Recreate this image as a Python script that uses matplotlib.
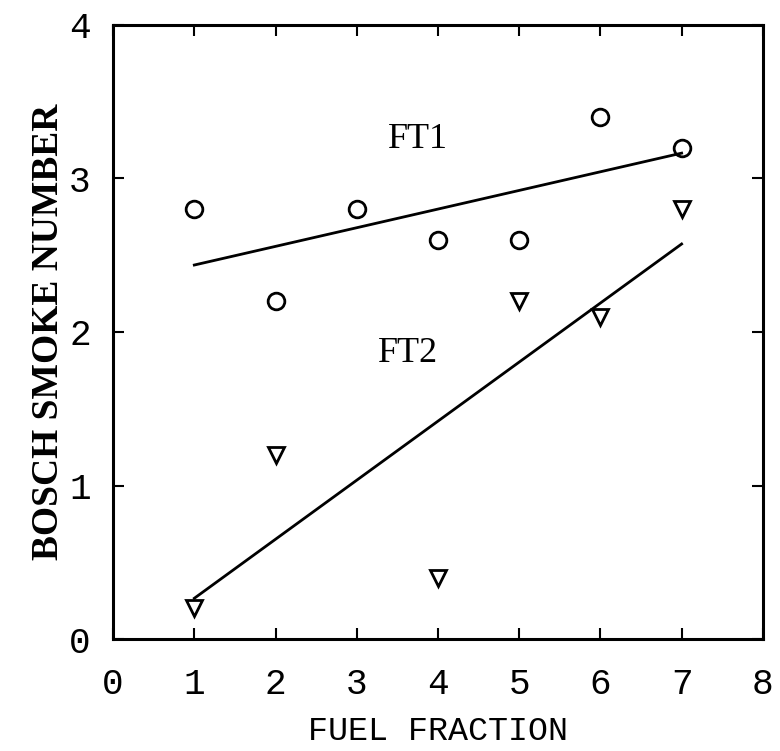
import numpy as np
import matplotlib
matplotlib.use("Agg")
import matplotlib.pyplot as plt

# data
ft1_x = [1, 2, 3, 4, 5, 6, 7]
ft1_y = [2.8, 2.2, 2.8, 2.6, 2.6, 3.4, 3.2]
ft2_x = [1, 2, 4, 5, 6, 7]
ft2_y = [0.2, 1.2, 0.4, 2.2, 2.1, 2.8]
x_ticks = [0, 1, 2, 3, 4, 5, 6, 7, 8]
y_ticks = [0, 1, 2, 3, 4]

fig = plt.figure(figsize=(7.8, 7.51), dpi=100)
ax = fig.add_axes([0.145, 0.149, 0.833, 0.818])

ax.plot(ft1_x, ft1_y, linestyle="none", marker="o", markersize=12,
        markerfacecolor="white", markeredgecolor="black", markeredgewidth=2)
ax.plot(ft2_x, ft2_y, linestyle="none", marker="v", markersize=11,
        markerfacecolor="white", markeredgecolor="black", markeredgewidth=2)

# least squares lines over the data range
for xs, ys in [(ft1_x, ft1_y), (ft2_x, ft2_y)]:
    k, b = np.polyfit(xs, ys, 1)
    xx = np.array([min(xs), max(xs)])
    ax.plot(xx, k * xx + b, color="black", lw=2)

ax.text(3.75, 3.25, "FT1", fontsize=26, family="Liberation Serif", ha="center", va="center")
ax.text(3.63, 1.86, "FT2", fontsize=26, family="Liberation Serif", ha="center", va="center")

ax.set_xlim(0, 8)
ax.set_ylim(0, 4)
ax.set_xticks(x_ticks)
ax.set_yticks(y_ticks)
ax.tick_params(direction="in", length=8, width=1.5, top=True, right=True,
               labelsize=26)
ax.tick_params(axis="x", pad=20)
ax.tick_params(axis="y", pad=16)
for lab in ax.get_xticklabels() + ax.get_yticklabels():
    lab.set_family("Liberation Mono")
for sp in ax.spines.values():
    sp.set_linewidth(2.2)

ax.set_xlabel("FUEL FRACTION", fontsize=24, family="Liberation Mono", labelpad=10)
ax.set_ylabel("BOSCH SMOKE NUMBER", fontsize=27, family="Liberation Serif",
              fontweight="bold", labelpad=2)

fig.savefig("out.png", dpi=100)
